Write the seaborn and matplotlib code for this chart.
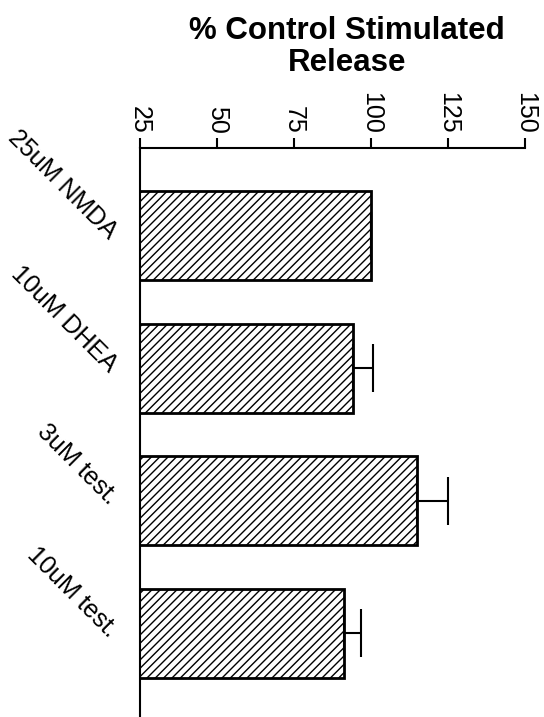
import numpy as np
import pandas as pd
import matplotlib
matplotlib.use("Agg")
import matplotlib.pyplot as plt
import seaborn as sns

# data
treatments = ["25uM NMDA", "10uM DHEA", "3uM test.", "10uM test."]
release = [100, 94.2, 114.9, 91.2]
sem = [0, 6.4, 10.1, 5.6]
x_ticks = [25, 50, 75, 100, 125, 150]

sns.set_style("ticks")
plt.rcParams["font.family"] = ["Liberation Sans", "DejaVu Sans"]
plt.rcParams["hatch.linewidth"] = 1.0
for k in ["text.color", "axes.edgecolor", "xtick.color", "ytick.color", "axes.labelcolor"]:
    plt.rcParams[k] = "black"

df = pd.DataFrame({"treatment": treatments, "release": release})

fig = plt.figure(figsize=(5.44, 7.17), dpi=100)
ax = fig.add_axes([0.257, 0.0, 0.708, 0.7936])

sns.barplot(data=df, x="release", y="treatment", orient="h", width=0.67,
            color="white", edgecolor="black", linewidth=2, saturation=1,
            errorbar=None, ax=ax)
for p in ax.patches:
    p.set_hatch("////")

# one-sided error bars (plus side only)
ax.errorbar(release, np.arange(len(treatments)),
            xerr=[np.zeros(len(sem)), sem], fmt="none", ecolor="black",
            elinewidth=1.5, capsize=17, capthick=1.5, zorder=1)

ax.set_xlim(25, 150)
ax.set_ylim(3.63, -0.66)
ax.set_xticks(x_ticks)
ax.set_xticklabels([str(t) for t in x_ticks], rotation=-90, fontsize=18)
ax.xaxis.tick_top()
ax.tick_params(axis="x", direction="out", length=7, width=1.5, pad=3)
ax.tick_params(axis="y", length=0, pad=19)
for lbl in ax.get_yticklabels():
    lbl.set_rotation(-45)
    lbl.set_fontsize(18)
    lbl.set_ha("right")
    lbl.set_va("center")
    lbl.set_rotation_mode("anchor")

ax.set_xlabel("")
ax.set_ylabel("")
for s in ["right", "bottom"]:
    ax.spines[s].set_visible(False)
for s in ["left", "top"]:
    ax.spines[s].set_linewidth(1.5)

fig.text(0.638, 0.978, "% Control Stimulated\nRelease", ha="center", va="top",
         fontsize=22.5, fontweight="bold", linespacing=1.1)

fig.savefig("out.png", dpi=100)
